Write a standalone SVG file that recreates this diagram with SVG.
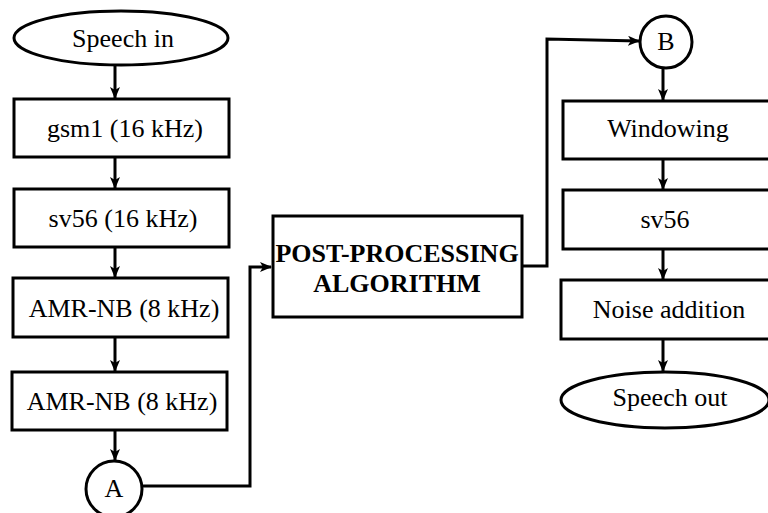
<svg xmlns="http://www.w3.org/2000/svg" width="768" height="513" viewBox="0 0 768 513">
<defs>
<style>
.n{fill:#fff;stroke:#000;stroke-width:3}
.t{font-family:'Liberation Serif','DejaVu Serif',serif;font-size:26px;fill:#000;text-anchor:middle}
.b{font-weight:bold}
.c{fill:none;stroke:#000;stroke-width:3}
</style>
<marker id="ah" viewBox="0 0 12 10" refX="11" refY="5" markerWidth="12" markerHeight="10" markerUnits="userSpaceOnUse" orient="auto">
<path d="M0,0 L12,5 L0,10 L3,5 z" fill="#000"/>
</marker>
</defs>
<rect width="768" height="513" fill="#fff"/>
<g id="connectors">
<line class="c" x1="115" y1="66" x2="115" y2="98" marker-end="url(#ah)"/>
<line class="c" x1="115" y1="158" x2="115" y2="188" marker-end="url(#ah)"/>
<line class="c" x1="115" y1="248" x2="115" y2="277" marker-end="url(#ah)"/>
<line class="c" x1="115" y1="338" x2="115" y2="371" marker-end="url(#ah)"/>
<line class="c" x1="115" y1="431" x2="115" y2="460" marker-end="url(#ah)"/>
<polyline class="c" points="142,486 250,486 250,267 271,267" marker-end="url(#ah)"/>
<polyline class="c" points="523,266 547,266 547,39 639,41" marker-end="url(#ah)"/>
<line class="c" x1="663" y1="69" x2="663" y2="100" marker-end="url(#ah)"/>
<line class="c" x1="663" y1="160" x2="663" y2="189" marker-end="url(#ah)"/>
<line class="c" x1="663" y1="250" x2="663" y2="279" marker-end="url(#ah)"/>
<line class="c" x1="663" y1="340" x2="663" y2="371" marker-end="url(#ah)"/>
</g>
<g id="speech-in">
<ellipse class="n" cx="121" cy="38" rx="107" ry="27"/>
<text class="t" x="123" y="47">Speech in</text>
</g>
<g id="gsm1">
<rect class="n" x="14" y="99" width="215" height="58"/>
<text class="t" x="125" y="137">gsm1 (16 kHz)</text>
</g>
<g id="sv56-16">
<rect class="n" x="14" y="189" width="215" height="58"/>
<text class="t" x="123" y="227">sv56 (16 kHz)</text>
</g>
<g id="amr1">
<rect class="n" x="13" y="278" width="215" height="59"/>
<text class="t" x="124" y="317">AMR-NB (8 kHz)</text>
</g>
<g id="amr2">
<rect class="n" x="12" y="372" width="215" height="58"/>
<text class="t" x="122" y="410">AMR-NB (8 kHz)</text>
</g>
<g id="A">
<circle class="n" cx="114" cy="489" r="28" stroke-width="2.5"/>
<text class="t" x="114" y="497">A</text>
</g>
<g id="post">
<rect class="n" x="273" y="216" width="249" height="101"/>
<text class="t b" x="397" y="262">POST-PROCESSING</text>
<text class="t b" x="397" y="292">ALGORITHM</text>
</g>
<g id="B">
<circle class="n" cx="666" cy="42" r="26" stroke-width="2.5"/>
<text class="t" x="666" y="50">B</text>
</g>
<g id="windowing">
<rect class="n" x="563" y="101" width="210" height="58"/>
<text class="t" x="668" y="137">Windowing</text>
</g>
<g id="sv56">
<rect class="n" x="563" y="190" width="210" height="59"/>
<text class="t" x="665" y="228">sv56</text>
</g>
<g id="noise">
<rect class="n" x="561" y="280" width="212" height="59"/>
<text class="t" x="669" y="318">Noise addition</text>
</g>
<g id="speech-out">
<ellipse class="n" cx="665" cy="400" rx="104" ry="28"/>
<text class="t" x="670" y="406">Speech out</text>
</g>
</svg>
